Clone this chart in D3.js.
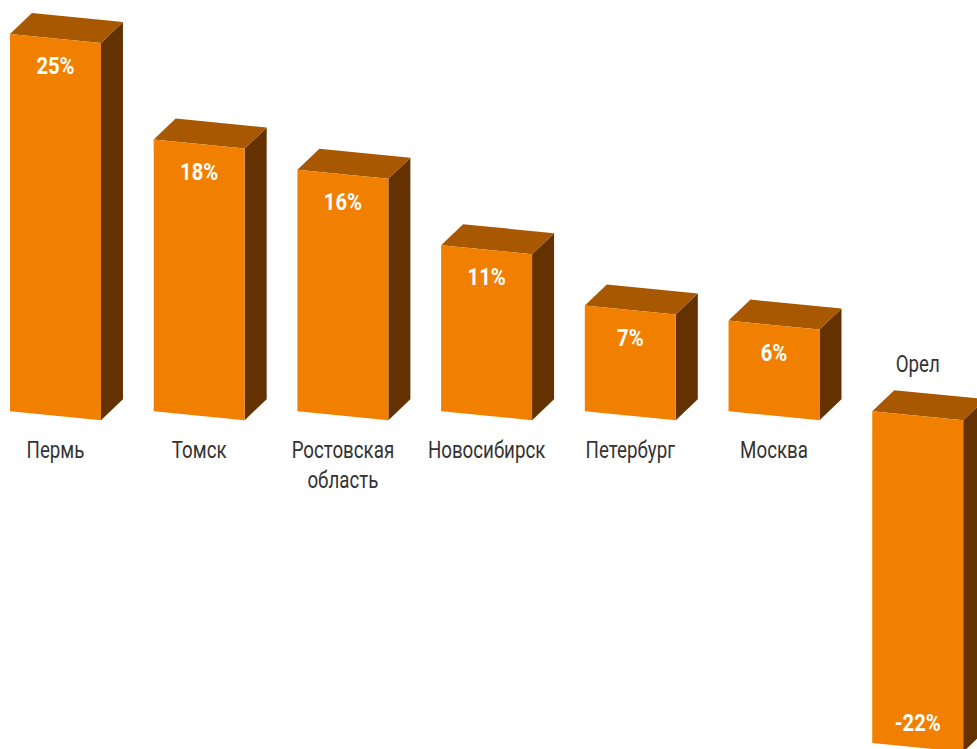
<!DOCTYPE html>
<html>
<head>
<meta charset="utf-8">
<script src="https://cdn.jsdelivr.net/npm/d3@7"></script>
<style>
  body { margin: 0; background: #fff; }
  svg { display: block; }
  .cat { font-family: "Roboto", sans-serif; font-size: 24px; fill: #333; }
  .val { font-family: "Roboto", sans-serif; font-size: 23px; font-weight: bold; fill: #fff; }
</style>
</head>
<body>
<script>
const categories = ["Пермь", "Томск", "Ростовская область", "Новосибирск", "Петербург", "Москва", "Орел"]
const values = [25, 18, 16, 11, 7, 6, -22]

const width = 977
const height = 749

// 3d look
const depthX = 22
const depthY = -21
const slant = 9

const colors = { front: "#f18000", top: "#a85800", side: "#643200" }

const svg = d3.select("body").append("svg")
    .attr("width", width)
    .attr("height", height)

const x = d3.scaleBand()
    .domain(categories)
    .range([10, 10 + 6 * 143.7 + 91])
    .paddingInner(0.367)
    .paddingOuter(0)

const y = d3.scaleLinear()
    .domain([-22, 25])
    .range([743, 34])

const data = categories.map((c, i) => ({ name: c, value: values[i] }))
const w = x.bandwidth()

const poly = pts => "M" + pts.map(p => p.join(",")).join("L") + "Z"

const bars = svg.append("g").selectAll("g")
    .data(data)
    .enter()
    .append("g")

bars.each(function (d) {
    const g = d3.select(this)
    const x0 = x(d.name)
    const x1 = x0 + w
    const top = y(Math.max(0, d.value))
    const bot = y(Math.min(0, d.value))
    // side
    g.append("path")
        .attr("d", poly([[x1, top + slant], [x1 + depthX, top + slant + depthY], [x1 + depthX, bot + slant + depthY], [x1, bot + slant]]))
        .attr("fill", colors.side)
    // top
    g.append("path")
        .attr("d", poly([[x0, top], [x1, top + slant], [x1 + depthX, top + slant + depthY], [x0 + depthX, top + depthY]]))
        .attr("fill", colors.top)
    // front
    g.append("path")
        .attr("d", poly([[x0, top], [x1, top + slant], [x1, bot + slant], [x0, bot]]))
        .attr("fill", colors.front)

    const cx = x0 + w / 2
    g.append("text")
        .attr("class", "val")
        .attr("text-anchor", "middle")
        .attr("transform", `translate(${cx},${d.value >= 0 ? top + 40 : bot - 12}) scale(0.88,1)`)
        .text(d.value + "%")

    // condensed look for category names
    const words = d.name.split(" ")
    const ly = d.value >= 0 ? y(0) + 47 : y(0) - 39
    const t = g.append("text")
        .attr("class", "cat")
        .attr("text-anchor", "middle")
        .attr("transform", `translate(${cx},${ly}) scale(0.78,1)`)
    words.forEach((wd, i) => {
        t.append("tspan").attr("x", 0).attr("dy", i ? 30 : 0).text(wd)
    })
})
</script>
</body>
</html>
